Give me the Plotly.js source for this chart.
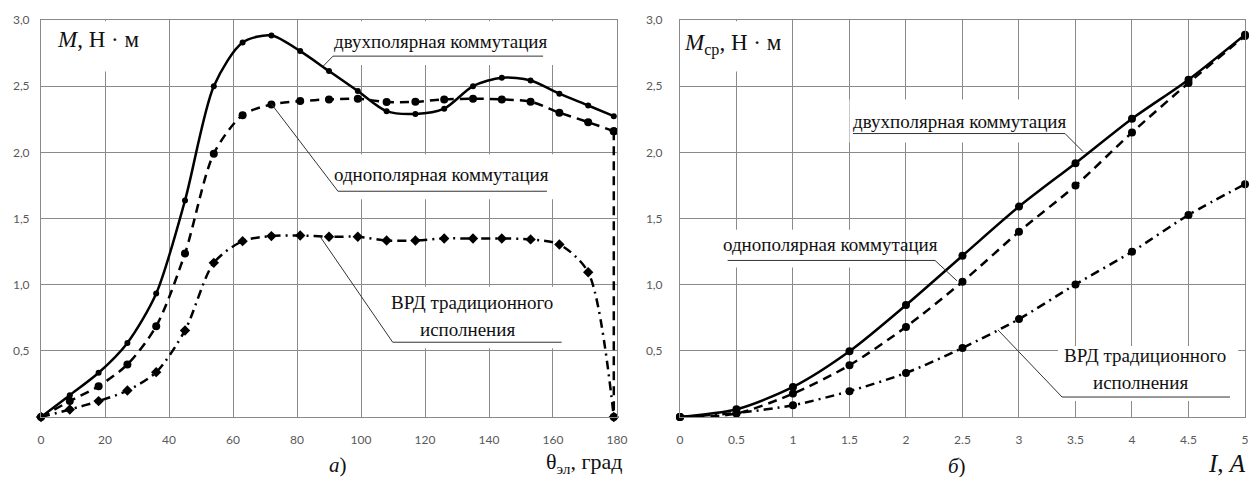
<!DOCTYPE html>
<html><head><meta charset="utf-8">
<script src="https://cdn.plot.ly/plotly-3.0.1.min.js"></script>
<style>html,body{margin:0;padding:0;background:#fff}#chart{width:1252px;height:477px}</style>
</head><body><div id="chart"></div>
<script>
// ---- Panel a: torque vs electrical angle ----
const thetaDeg = [0,9,18,27,36,45,54,63,72,81,90,99,108,117,126,135,144,153,162,171,179];
const torqueBipolar = [0,0.165,0.334,0.56,0.933,1.636,2.50,2.83,2.883,2.765,2.614,2.463,2.311,2.29,2.33,2.50,2.564,2.543,2.443,2.354,2.273];
const thetaUnipolar = [0,9,18,27,36,45,54,63,72,81,90,99,108,117,126,135,144,153,162,171,179,179];
const torqueUnipolar = [0,0.12,0.233,0.397,0.686,1.236,1.99,2.281,2.362,2.387,2.40,2.405,2.38,2.382,2.40,2.405,2.40,2.383,2.30,2.228,2.16,0];
const torqueConventional = [0,0.057,0.12,0.20,0.339,0.654,1.165,1.329,1.367,1.372,1.362,1.362,1.334,1.334,1.349,1.349,1.349,1.342,1.304,1.094,0];
const thetaTicks = [0,20,40,60,80,100,120,140,160,180];

// ---- Panel б: average torque vs current ----
const currentA = [0,0.5,1,1.5,2,2.5,3,3.5,4,4.5,5];
const avgBipolar = [0,0.058,0.227,0.497,0.846,1.219,1.59,1.918,2.254,2.549,2.889];
const avgUnipolar = [0,0.026,0.177,0.391,0.681,1.022,1.40,1.749,2.15,2.524,2.88];
const avgConventional = [0,0.03,0.089,0.195,0.333,0.522,0.74,1.002,1.249,1.527,1.759];
const currentTicks = [0,0.5,1,1.5,2,2.5,3,3.5,4,4.5,5];
const currentTickText = ['0','0.5','1','1.5','2','2.5','3','3.5','4','4.5','5'];

const yTicks = [0.5,1,1.5,2,2.5,3];
const yTickText = ['0,5','1,0','1,5','2,0','2,5','3,0'];

const lblBipolar = 'двухполярная коммутация';
const lblUnipolar = 'однополярная коммутация';
const lblConv1 = 'ВРД традиционного';
const lblConv2 = 'исполнения';

const SERIF = '"Liberation Serif", "DejaVu Serif", serif';
const GRID = '#8a8a8a';
const DASH = '9px,6px';
const DASHDOT = '9px,5px,2px,5px';

function tr(x, y, xa, ya, dash, sym, size, shape) {
  return {x: x, y: y, xaxis: xa, yaxis: ya, type: 'scatter', mode: 'lines+markers',
    line: {color: '#000', width: 2.5, dash: dash, shape: shape || 'spline', smoothing: 0.8},
    marker: {color: '#000', symbol: sym, size: size}, cliponaxis: false, hoverinfo: 'skip'};
}

const data = [
  tr(thetaDeg, torqueBipolar, 'x', 'y', 'solid', 'circle', 6),
  tr(thetaUnipolar.slice(0, -1), torqueUnipolar.slice(0, -1), 'x', 'y', DASH, 'circle', 8),
  tr(thetaUnipolar.slice(-2), torqueUnipolar.slice(-2), 'x', 'y', DASH, 'circle', 8, 'linear'),
  tr(thetaDeg, torqueConventional, 'x', 'y', DASHDOT, 'diamond', 8),
  tr(currentA, avgBipolar, 'x2', 'y2', 'solid', 'circle', 8),
  tr(currentA, avgUnipolar, 'x2', 'y2', DASH, 'circle', 8),
  tr(currentA, avgConventional, 'x2', 'y2', DASHDOT, 'circle', 8)
];

function axX(dom, range, tv, tt) {
  return {domain: dom, range: range, tickvals: tv, ticktext: tt, showgrid: true, gridcolor: GRID, gridwidth: 1,
    showline: true, linecolor: GRID, linewidth: 1, mirror: true, zeroline: false, ticks: '',
    ticklabelstandoff: 12, tickfont: {family: 'Lato, "Open Sans", sans-serif', size: 12, color: '#595959'}, fixedrange: true};
}
function axY(anchor, standoff) {
  return {domain: [0,1], range: [0,3], anchor: anchor, tickvals: yTicks, ticktext: yTickText, showgrid: true,
    gridcolor: GRID, gridwidth: 1, showline: true, linecolor: GRID, linewidth: 1, mirror: true, zeroline: false,
    ticks: '', ticklabelstandoff: standoff, tickfont: {family: 'Lato, "Open Sans", sans-serif', size: 12, color: '#595959'}, fixedrange: true};
}

function rect(xr, yr, x0, x1, y0, y1) {
  return {type: 'rect', xref: xr, yref: yr, x0: x0, x1: x1, y0: y0, y1: y1, fillcolor: '#fff', line: {width: 0}, layer: 'between'};
}
function seg(xr, yr, x0, y0, x1, y1) {
  return {type: 'line', xref: xr, yref: yr, x0: x0, y0: y0, x1: x1, y1: y1, line: {color: '#333', width: 1}, layer: 'above'};
}
function txt(xr, yr, x, y, t, size, extra) {
  return Object.assign({xref: xr, yref: yr, x: x, y: y, text: t, showarrow: false, xanchor: 'center', yanchor: 'middle',
    font: {family: SERIF, size: size, color: '#111'}}, extra || {});
}

const shapes = [
  // white gaps behind labels, panel a
  rect('x','y', 3, 37, 2.61, 2.99),
  rect('x','y', 88.5, 161.6, 2.66, 2.99),
  rect('x','y', 90, 161.6, 1.645, 1.985),
  rect('x','y', 107.5, 163.8, 0.52, 0.985),
  // panel б
  rect('x2','y2', 0.05, 0.93, 2.61, 2.99),
  rect('x2','y2', 1.5, 3.45, 2.075, 2.40),
  rect('x2','y2', 0.37, 1.95, 1.13, 1.415),
  rect('x2','y2', 3.345, 4.94, 0.12, 0.537),
  // leader lines panel a
  seg('x','y', 91.25, 2.727, 156.9, 2.727),
  seg('x','y', 91.25, 2.727, 88.1, 2.649),
  seg('x','y', 92.8, 1.706, 158.1, 1.706),
  seg('x','y', 92.8, 1.706, 72.1, 2.362),
  seg('x','y', 109.9, 0.565, 162.7, 0.565),
  seg('x','y', 109.9, 0.565, 87.2, 1.364),
  // leader lines panel б
  seg('x2','y2', 1.531, 2.142, 3.407, 2.142),
  seg('x2','y2', 3.407, 2.142, 3.566, 2.006),
  seg('x2','y2', 0.422, 1.183, 2.257, 1.183),
  seg('x2','y2', 2.257, 1.183, 2.451, 1.029),
  seg('x2','y2', 3.381, 0.151, 4.867, 0.151),
  seg('x2','y2', 3.381, 0.151, 2.814, 0.658)
];

const annotations = [
  txt('x','y', 17.8, 2.853, '<i>M</i>, Н · м', 23),
  txt('x','y', 124.7, 2.84, lblBipolar, 19),
  txt('x','y', 125.3, 1.833, lblUnipolar, 19),
  txt('x','y', 134.7, 0.865, lblConv1, 19),
  txt('x','y', 133.4, 0.661, lblConv2, 19),
  txt('x2','y2', 0.469, 2.816, '<i>M</i><sub>ср</sub>, Н · м', 23),
  txt('x2','y2', 2.478, 2.233, lblBipolar, 19),
  txt('x2','y2', 1.336, 1.302, lblUnipolar, 19),
  txt('x2','y2', 4.115, 0.461, lblConv1, 19),
  txt('x2','y2', 4.071, 0.257, lblConv2, 19),
  txt('paper','paper', (338-41)/1204, -(465-417)/397, '<i>а</i>)', 21),
  txt('paper','paper', (957-41)/1204, -(466-417)/397, '<i>б</i>)', 21),
  txt('paper','paper', (625-41)/1204, -(463-417)/397, 'θ<sub>эл</sub>, град', 22, {xanchor: 'right'}),
  txt('paper','paper', (1248-41)/1204, -(463-417)/397, '<i>I</i>, <i>A</i>', 25, {xanchor: 'right'})
];

const layout = {
  width: 1252, height: 477, margin: {l: 41, r: 7, t: 20, b: 60},
  paper_bgcolor: '#fff', plot_bgcolor: '#fff', showlegend: false,
  xaxis: Object.assign(axX([0, 0.4784], [0, 180], thetaTicks, thetaTicks.map(String)), {anchor: 'y'}),
  yaxis: axY('x', 8),
  xaxis2: Object.assign(axX([0.5307, 1], [0, 5], currentTicks, currentTickText), {anchor: 'y2'}),
  yaxis2: axY('x2', 14),
  shapes: shapes, annotations: annotations
};

Plotly.newPlot('chart', data, layout, {staticPlot: true, displayModeBar: false});
</script></body></html>
